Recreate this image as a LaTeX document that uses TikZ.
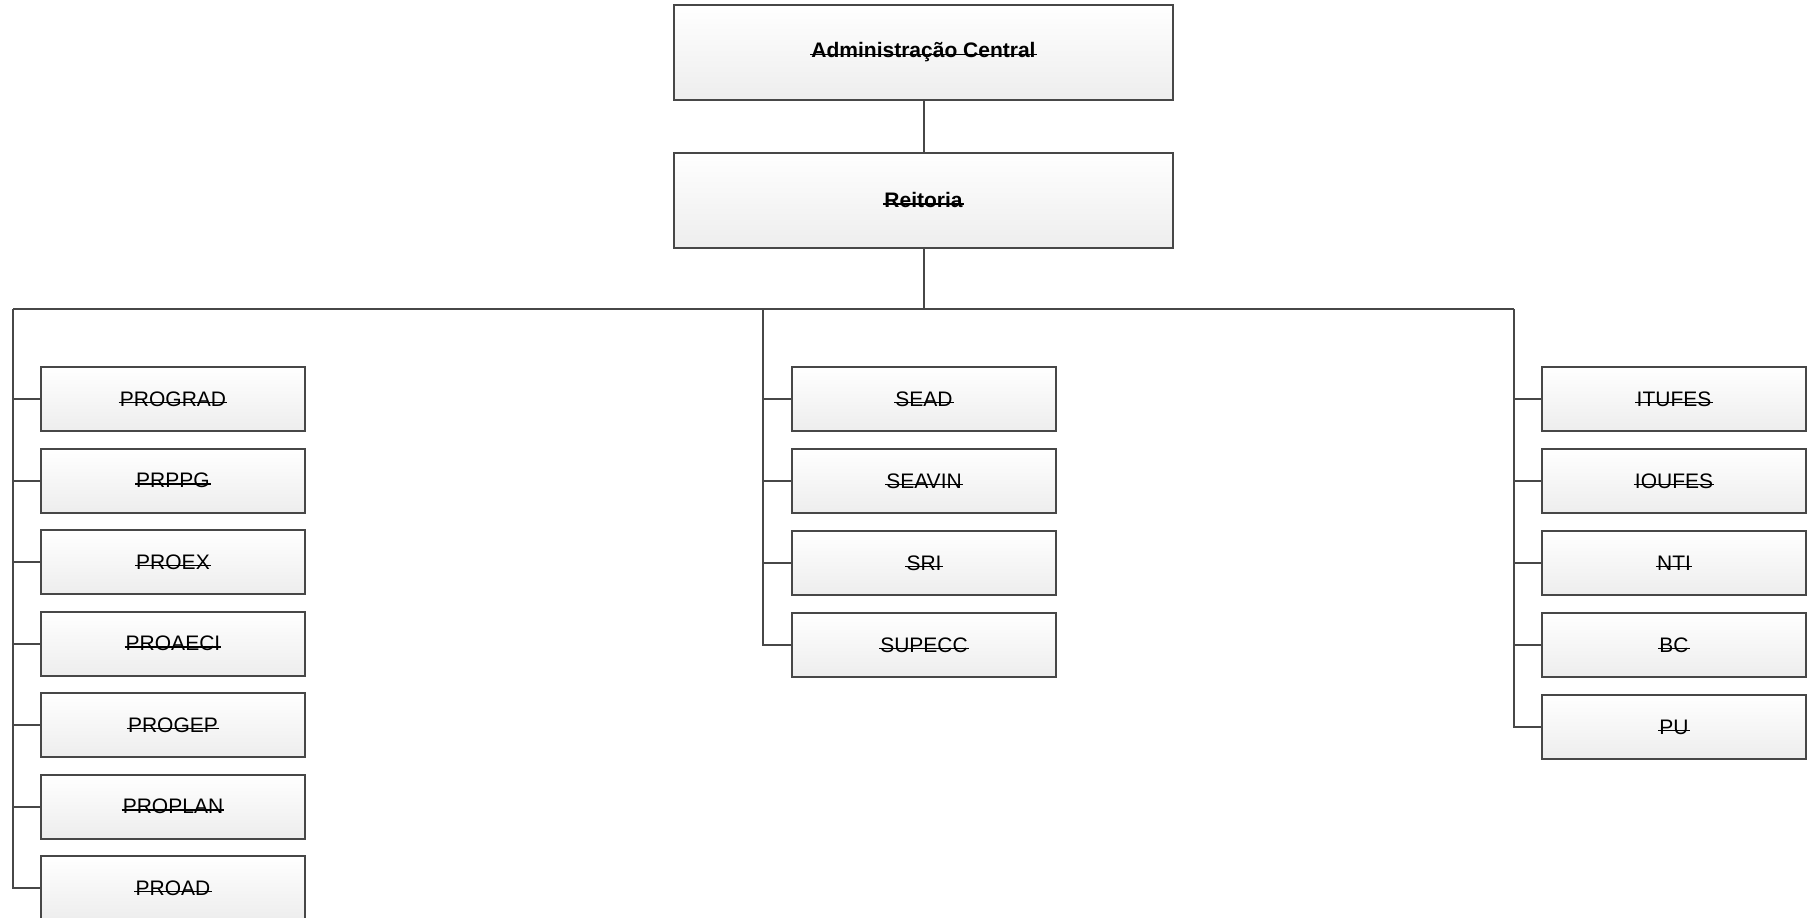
\documentclass[tikz,border=0pt]{standalone}
\usepackage{fontspec}
\setmainfont{Liberation Sans}
\usetikzlibrary{calc}

\newcommand\strk[1]{\setbox0\hbox{#1}\rlap{\kern-0.6pt\rule[1.5pt]{\dimexpr\wd0+1.2pt\relax}{0.7pt}}\box0}

\begin{document}
\begin{tikzpicture}[x=0.5pt,y=-0.5pt,
                    unit/.style={draw=black!72,line width=1pt,top color=white,bottom color=black!7,minimum width=132pt,minimum height=32pt,inner sep=0pt,font=\fontsize{10.5}{12}\selectfont},
                    head unit/.style={unit,minimum width=249.5pt,minimum height=47.5pt,font=\fontsize{10.5}{12}\selectfont\bfseries},
                    link/.style={draw=black!72,line width=1pt},
                   ]
  \useasboundingbox (0,0) rectangle (1807,917);

  \node[head unit] (admin) at (923.5, 52.5) {\strk{Administração Central}};
  \node[head unit] (reitoria) at (923.5, 200) {\strk{Reitoria}};

  % left column
  \node[unit] (prograd) at (173, 399) {\strk{PROGRAD}};
  \node[unit] (prppg) at (173, 480.5) {\strk{PRPPG}};
  \node[unit] (proex) at (173, 562) {\strk{PROEX}};
  \node[unit] (proaeci) at (173, 643.5) {\strk{PROAECI}};
  \node[unit] (progep) at (173, 725) {\strk{PROGEP}};
  \node[unit] (proplan) at (173, 806.5) {\strk{PROPLAN}};
  \node[unit] (proad) at (173, 888) {\strk{PROAD}};

  % middle column
  \node[unit] (sead) at (924, 399) {\strk{SEAD}};
  \node[unit] (seavin) at (924, 481) {\strk{SEAVIN}};
  \node[unit] (sri) at (924, 563) {\strk{SRI}};
  \node[unit] (supecc) at (924, 645) {\strk{SUPECC}};

  % right column
  \node[unit] (itufes) at (1674, 399) {\strk{ITUFES}};
  \node[unit] (ioufes) at (1674, 481) {\strk{IOUFES}};
  \node[unit] (nti) at (1674, 563) {\strk{NTI}};
  \node[unit] (bc) at (1674, 645) {\strk{BC}};
  \node[unit] (pu) at (1674, 727) {\strk{PU}};

  \coordinate (bus-left) at (13, 309);
  \coordinate (bus-mid) at (763, 309);
  \coordinate (bus-right) at (1514, 309);

  \path[link] (admin) -- (reitoria);
  \path[link] (reitoria.south) -- (reitoria.south |- bus-left);
  \path[link] (bus-left) -- (bus-right);

  \path[link] (bus-left) |- (proad.west);
  \path[link] (prograd.west) -- (prograd.west -| bus-left);
  \path[link] (prppg.west) -- (prppg.west -| bus-left);
  \path[link] (proex.west) -- (proex.west -| bus-left);
  \path[link] (proaeci.west) -- (proaeci.west -| bus-left);
  \path[link] (progep.west) -- (progep.west -| bus-left);
  \path[link] (proplan.west) -- (proplan.west -| bus-left);

  \path[link] (bus-mid) |- (supecc.west);
  \path[link] (sead.west) -- (sead.west -| bus-mid);
  \path[link] (seavin.west) -- (seavin.west -| bus-mid);
  \path[link] (sri.west) -- (sri.west -| bus-mid);

  \path[link] (bus-right) |- (pu.west);
  \path[link] (itufes.west) -- (itufes.west -| bus-right);
  \path[link] (ioufes.west) -- (ioufes.west -| bus-right);
  \path[link] (nti.west) -- (nti.west -| bus-right);
  \path[link] (bc.west) -- (bc.west -| bus-right);
\end{tikzpicture}
\end{document}
